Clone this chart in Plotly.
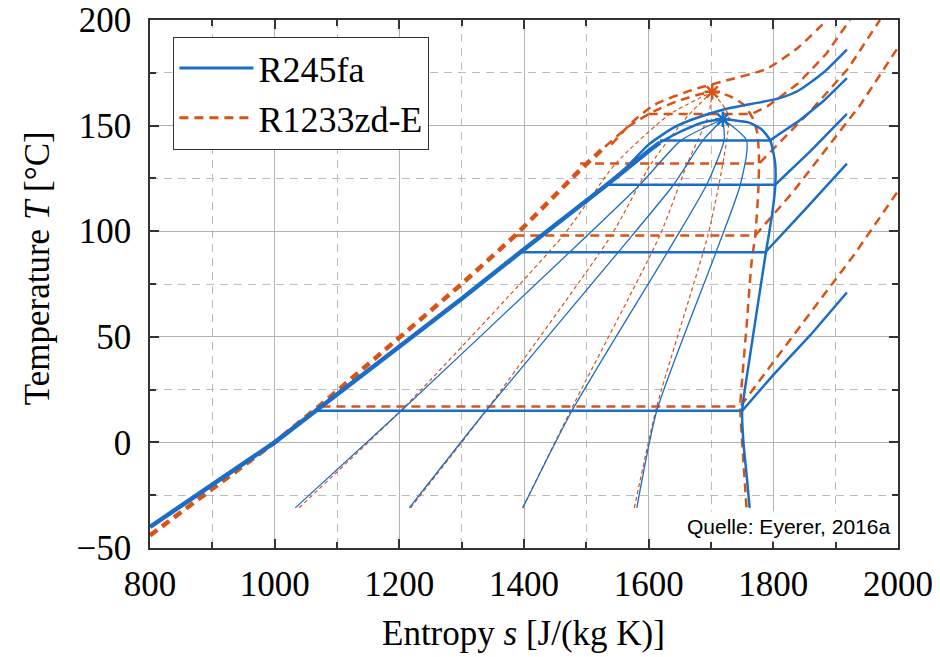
import plotly.graph_objects as go

BLUE = "#1c6dc6"
RED = "#d95319"

# ---------------- R245fa (blue) ----------------
liq_b_s = [800, 900, 1000, 1066, 1200, 1300, 1394, 1500, 1533, 1600, 1618]
liq_b_T = [-40, -20, 0, 15, 45, 68, 90, 114, 122, 138, 142]
dome_b_s = [1618, 1650, 1687, 1719, 1735, 1760, 1780, 1795, 1803, 1803, 1798, 1787, 1775, 1761, 1750, 1752, 1757, 1762]
dome_b_T = [142, 147, 151.5, 153, 152.6, 151.5, 148.5, 143, 132, 121, 108, 88, 65, 38, 15, 0, -15, -31]

iso1_b_s = [1066, 1750, 1800, 1860, 1918]
iso1_b_T = [15, 15, 32, 51, 71]
iso2_b_s = [1394, 1787, 1850, 1918]
iso2_b_T = [90, 90, 110, 132]
iso3_b_s = [1533, 1803, 1860, 1918]
iso3_b_T = [122, 122, 138, 155.5]
iso4_b_s = [1618, 1795, 1812, 1840, 1880, 1918]
iso4_b_T = [143, 143, 146.5, 152, 161.5, 172.5]
iso5_b_s = [1500, 1560, 1600, 1640, 1671, 1719, 1751, 1779, 1810, 1840, 1880, 1918]
iso5_b_T = [114, 129, 141, 149, 153, 157.5, 159.5, 161, 163, 166.5, 175, 186]

q_b_T = [-31, 15, 90, 122, 143, 153]
q1_b_s = [1033, 1203, 1473, 1586, 1652, 1719]
q2_b_s = [1216, 1339, 1551, 1640, 1687, 1719]
q3_b_s = [1398, 1477, 1630, 1693, 1721, 1719]
q4_b_s = [1581, 1613, 1708, 1747, 1757, 1719]

crit_b = (1719, 153)

# ---------------- R1233zd-E (red) ----------------
liq_r_s = [800, 900, 1000, 1075, 1200, 1300, 1386, 1490, 1530]
liq_r_T = [-44, -22, 0, 18, 50, 75, 98, 129, 140]
dome_r_s = [1530, 1570, 1610, 1650, 1702, 1730, 1752, 1766, 1774, 1777, 1776, 1771, 1765, 1757, 1750, 1747, 1750, 1757]
dome_r_T = [140, 150, 157, 162, 166, 164, 160, 154, 147, 135, 120, 98, 85, 55, 30, 17, 0, -31]

iso1_r_s = [1075, 1747, 1800, 1856, 1930, 2000]
iso1_r_T = [17, 17, 38, 60, 89, 119]
iso2_r_s = [1386, 1771, 1830, 1880, 1940, 2000]
iso2_r_T = [98, 98, 118, 137, 160, 187]
iso3_r_s = [1490, 1777, 1810, 1860, 1920, 1971]
iso3_r_T = [132, 132, 142, 157, 177, 200]
iso4_r_s = [1600, 1765, 1790, 1840, 1885, 1923]
iso4_r_T = [155.5, 155.5, 159, 170, 184, 200]
iso5_r_s = [1540, 1575, 1610, 1671, 1720, 1790, 1840, 1886]
iso5_r_T = [141, 152, 160, 167, 171, 177, 187, 200]

q_r_T = [-31, 17, 98, 132, 155, 166]
q1_r_s = [1039, 1209, 1463, 1547, 1632, 1702]
q2_r_s = [1218, 1344, 1540, 1604, 1664, 1702]
q3_r_s = [1398, 1478, 1618, 1662, 1696, 1702]
q4_r_s = [1577, 1613, 1695, 1719, 1728, 1702]

crit_r = (1702, 166)

x_ticks = [800, 1000, 1200, 1400, 1600, 1800, 2000]
y_ticks = [-50, 0, 50, 100, 150, 200]

fig = go.Figure()


def line(s, T, color, width, dash="solid", smooth=False):
    ln = dict(color=color, width=width, dash=dash)
    if smooth:
        ln.update(shape="spline", smoothing=0.6)
    fig.add_trace(go.Scatter(x=s, y=T, mode="lines", showlegend=False, hoverinfo="skip", line=ln))


# red first (behind)
RD = "9px,6px"
for qs in [q1_r_s, q2_r_s, q3_r_s, q4_r_s]:
    line(qs, q_r_T, RED, 1.2, "4px,3px", smooth=True)
line(liq_r_s, liq_r_T, RED, 4.5, RD)
line(dome_r_s, dome_r_T, RED, 2.5, RD, smooth=True)
for s, T in [(iso1_r_s, iso1_r_T), (iso2_r_s, iso2_r_T), (iso3_r_s, iso3_r_T),
             (iso4_r_s, iso4_r_T)]:
    line(s, T, RED, 2.5, RD)
line(iso5_r_s, iso5_r_T, RED, 2.5, RD, smooth=True)

# blue
for qs in [q1_b_s, q2_b_s, q3_b_s, q4_b_s]:
    line(qs, q_b_T, BLUE, 1.3, smooth=True)
line(liq_b_s, liq_b_T, BLUE, 4.5)
line(dome_b_s, dome_b_T, BLUE, 2.5, smooth=True)
for s, T in [(iso1_b_s, iso1_b_T), (iso2_b_s, iso2_b_T), (iso3_b_s, iso3_b_T),
             (iso4_b_s, iso4_b_T)]:
    line(s, T, BLUE, 2.5)
line(iso5_b_s, iso5_b_T, BLUE, 2.5, smooth=True)

# critical points
fig.add_trace(go.Scatter(x=[crit_r[0]], y=[crit_r[1]], mode="markers", showlegend=False, hoverinfo="skip",
                         marker=dict(symbol="asterisk", size=13, line=dict(color=RED, width=2.5))))
fig.add_trace(go.Scatter(x=[crit_b[0]], y=[crit_b[1]], mode="markers", showlegend=False, hoverinfo="skip",
                         marker=dict(symbol="asterisk", size=13, line=dict(color=BLUE, width=2.5))))

# legend entries
fig.add_trace(go.Scatter(x=[None], y=[None], mode="lines", name="R245fa",
                         line=dict(color=BLUE, width=3)))
fig.add_trace(go.Scatter(x=[None], y=[None], mode="lines", name="R1233zd-E",
                         line=dict(color=RED, width=3, dash="9px,6px")))

SERIF = "Liberation Serif, Times New Roman, serif"
axis_common = dict(
    showline=True, linecolor="#333333", linewidth=1.5, mirror="ticks",
    ticks="inside", ticklen=9, tickcolor="#333333", tickwidth=1.5,
    showgrid=True, gridcolor="#b4b4b4", gridwidth=1.2,
    zeroline=False, automargin=False, ticklabeloverflow="allow",
    tickfont=dict(family=SERIF, size=35, color="black"),
)

fig.update_xaxes(
    range=[800, 2000], tickvals=x_ticks,
    minor=dict(dtick=100, tick0=800, showgrid=True, griddash="8px,6px", gridcolor="#bcbcbc",
               gridwidth=1.2, ticks="inside", ticklen=6, tickcolor="#333333"),
    ticklabelstandoff=4,
    **axis_common)
fig.update_yaxes(
    range=[-50, 200], tickvals=y_ticks,
    minor=dict(dtick=25, tick0=-50, showgrid=True, griddash="8px,6px", gridcolor="#bcbcbc",
               gridwidth=1.2, ticks="inside", ticklen=6, tickcolor="#333333"),
    ticklabelstandoff=10,
    **axis_common)

# axis titles
fig.add_annotation(xref="paper", yref="paper", x=0.499, y=-0.161, xanchor="center", yanchor="middle",
                   text="Entropy <i>s</i> [J/(kg K)]", showarrow=False,
                   font=dict(family=SERIF, size=35, color="black"))
fig.add_annotation(xref="paper", yref="paper", x=-0.151, y=0.53, xanchor="center", yanchor="middle",
                   text="Temperature <i>T</i> [°C]", showarrow=False, textangle=-90,
                   font=dict(family=SERIF, size=35, color="black"))

fig.add_annotation(xref="paper", yref="paper", x=0.995, y=0.012, xanchor="right", yanchor="bottom",
                   text="Quelle: Eyerer, 2016a", showarrow=False,
                   font=dict(family="Liberation Sans, Arial, sans-serif", size=21, color="black"),
                   bgcolor="white", borderpad=3)

# page has an 8px body margin: size and margins chosen so the plot area lands at 150..898 x 20..548
fig.update_layout(
    width=932, height=649,
    margin=dict(l=142, r=42, t=12, b=109, autoexpand=False),
    paper_bgcolor="white", plot_bgcolor="white",
    legend=dict(x=0.031, y=0.968, xanchor="left", yanchor="top",
                bgcolor="white", bordercolor="#333333", borderwidth=1.2,
                font=dict(family=SERIF, size=36, color="black"),
                itemwidth=74, tracegroupgap=0),
)

fig.write_html("out.html")
